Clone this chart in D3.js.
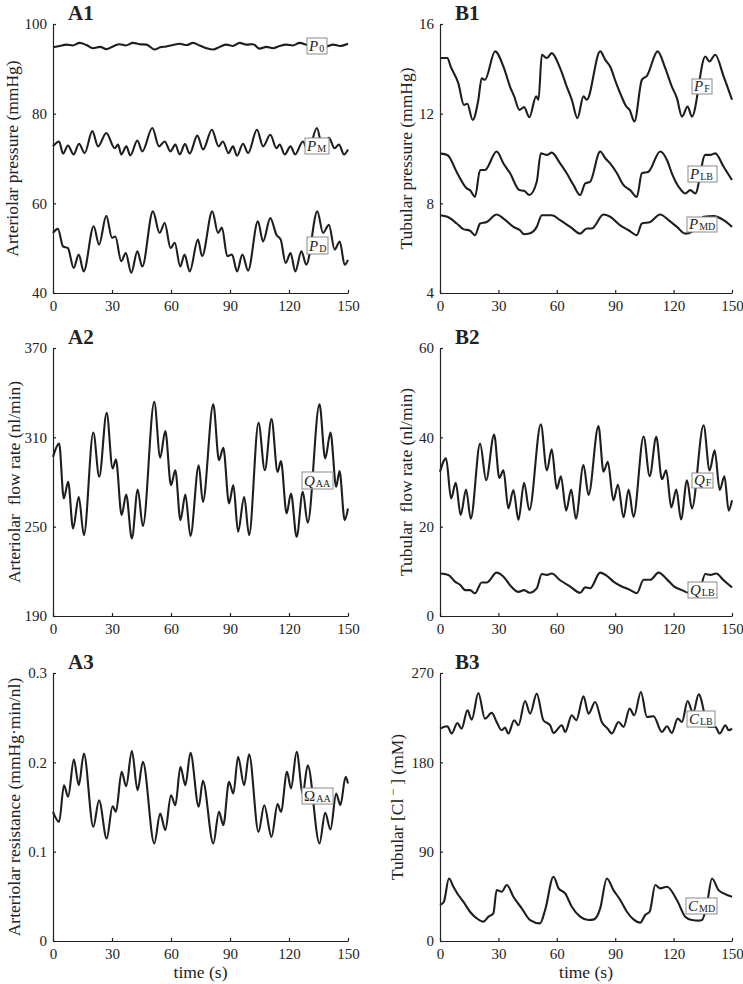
<!DOCTYPE html>
<html>
<head>
<meta charset="utf-8">
<script src="https://cdn.jsdelivr.net/npm/d3@7"></script>
<style>
  body { margin: 0; background: #fff; }
  svg text { font-family: "Liberation Serif", "Times New Roman", serif; fill: #222; }
</style>
</head>
<body>
<svg id="chart" width="743" height="984"></svg>
<script>
/*
------------------------------
DATA: [time (s), value] pairs (peaks, troughs and shoulders)
------------------------------
*/
const timeTicks = [0, 30, 60, 90, 120, 150];

const p0 = [[0,94.8],[3.4,95.1],[6.8,95.4],[10,95.2],[13.6,95.8],[17,95.3],[20.3,94.6],[24,94.9],[27.1,94.4],[30.5,95.0],
  [33.9,95.5],[37,95.2],[40.7,95.8],[44,95.5],[47.5,95.4],[51.7,94.3],[54.5,94.8],[57.6,95.0],[61,95.3],[64.4,95.6],
  [68,95.3],[71.2,95.8],[74.5,95.2],[78,94.6],[81.4,94.3],[84.8,94.9],[88.1,95.4],[91.5,95.1],[94.9,95.8],[98.3,95.4],
  [101.7,95.5],[105.1,94.5],[108.5,94.9],[111.9,94.6],[115.2,95.1],[118.6,95.4],[122,95.2],[125.4,95.8],[128.8,95.4],
  [132.2,95.0],[135.6,95.3],[139,95.0],[142.4,95.4],[146,95.1],[150,95.6]];

const pM = [[0,72.7],[3.1,73.8],[5.1,71.1],[7.6,72.9],[10.5,70.9],[13.2,73.3],[16.1,71.2],[20,76.1],[22.9,72.7],[27.1,75.7],
  [31.4,72.3],[33.1,73.1],[34.7,70.9],[37.3,72.7],[39.3,70.7],[42.9,74.0],[45.4,71.6],[50.5,76.8],[53.9,72.7],[56.8,73.8],
  [59.7,71.6],[62.2,73.1],[64.4,70.9],[67.1,73.2],[69.5,71.1],[73.4,75.1],[76.3,72.0],[80.8,76.4],[84.2,72.7],[86.4,73.8],
  [89.2,71.2],[91.5,72.7],[93.6,70.6],[96.6,73.3],[99.2,71.2],[103.7,76.4],[106.8,72.7],[110.5,75.3],[113.6,72.3],
  [115.3,73.1],[117.8,70.9],[120.8,72.7],[123.1,70.9],[127.1,73.8],[129.7,71.6],[134.2,76.8],[136.9,72.7],[140.3,74.6],
  [143.2,72.3],[145.4,73.1],[148,70.9],[150,72.0]];

const pD = [[0,53.4],[2.5,54.3],[5.1,50.4],[7.6,50.0],[10.5,45.6],[13.1,48.6],[15.6,44.8],[20.7,54.9],[23.4,50.8],[27.1,57.2],
  [30,52.3],[31.7,52.6],[34.7,47.1],[37,48.9],[39.8,44.5],[42.9,49.3],[45.4,45.9],[50.8,58.2],[54.2,53.4],[56.8,55.6],
  [59.8,50.0],[61.9,51.2],[64.7,45.9],[66.9,48.6],[69.5,44.8],[73.7,51.9],[75.8,48.2],[81,58.2],[83.9,53.4],[85.9,54.6],
  [88.6,48.2],[91,48.6],[93.6,44.8],[96.3,48.6],[99.2,45.0],[104.2,56.0],[106.8,51.5],[110.5,56.7],[113.6,53.0],
  [115.8,51.9],[118.3,46.7],[120.8,48.9],[123.2,44.8],[126.3,49.3],[128.8,46.3],[134.4,58.2],[137.3,53.4],[140.3,55.2],
  [143.2,49.7],[145.8,51.5],[148.3,46.3],[150,47.4]];

const qAA = [[0,296.9],[3.1,305.8],[5.5,268.9],[7.7,280.1],[10.2,248.8],[13.1,270],[15.7,244.3],[20.5,313.2],[23.5,283.5],
  [27.3,326.4],[30.3,289.1],[32,295.1],[34.9,257.8],[37.2,271.6],[40.1,242.1],[43.1,275],[45.7,250.4],[51.5,333.8],
  [54.5,296.4],[57.1,314.3],[60,277.9],[62.2,287.9],[64.8,254.4],[67.3,271.6],[69.9,243.7],[74.1,291.3],[76.2,266.7],
  [81.5,332.2],[84.4,294.6],[86.6,302.9],[89.5,265.6],[91.7,277.9],[94.1,246.6],[97.2,270],[99.7,244.3],[104.5,319.7],
  [107.7,287.9],[111.1,322.2],[114.2,286.8],[115.9,294],[118.8,258.9],[121,272.3],[123.9,243.2],[127,273.4],[129.5,252.6],
  [135.5,332.2],[138.4,295.8],[141.1,313.2],[144,276.8],[145.7,287.3],[148.3,254.4],[150,262.2]];

const omegaAA = [[0,0.1446],[3.1,0.1334],[5.6,0.1744],[7.7,0.1614],[10.6,0.2031],[13.1,0.1744],[15.7,0.2098],[20.5,0.1278],
  [23.4,0.1576],[27.3,0.1148],[30.3,0.1509],[32,0.1446],[34.9,0.1893],[37.2,0.1733],[40.1,0.2128],[43,0.1688],[45.7,0.2005],
  [51.5,0.1092],[54.5,0.1427],[57.1,0.1241],[60,0.1632],[62.2,0.152],[64.8,0.1949],[67.3,0.1744],[69.9,0.2106],[74.1,0.1502],
  [76.2,0.1793],[81.5,0.1092],[84.4,0.1446],[86.6,0.1297],[89.5,0.1781],[91.7,0.1651],[94.1,0.2061],[97.2,0.1744],
  [99.7,0.2091],[104.5,0.1222],[107.4,0.152],[111.1,0.1166],[114.2,0.1532],[115.9,0.1446],[119,0.1893],[121,0.1707],
  [123.9,0.2117],[127,0.1651],[129.5,0.1968],[135.5,0.1092],[138.4,0.1434],[141.1,0.1248],[144,0.1651],[146.1,0.152],
  [148.8,0.1837],[150,0.1763]];

const pF = [[0,14.48],[3.8,14.48],[5.5,14.1],[9.4,13.36],[12.3,12.39],[14,12.44],[16.8,11.72],[19.7,12.62],[21.4,13.58],
  [23.1,13.51],[28.3,14.78],[32.6,14.1],[36,13.2],[38.1,12.77],[40.8,12.17],[43.2,12.29],[45.9,11.84],[49.4,12.77],
  [50.6,12.62],[52.3,14.63],[54.9,14.48],[57.4,14.7],[61.7,14.03],[65.1,13.21],[67.7,12.62],[70.6,11.8],[73.7,12.77],
  [75.4,12.62],[82.3,14.78],[84.9,14.4],[87.4,14.1],[90.5,13.36],[92.9,12.84],[95.7,12.32],[97.4,12.17],[99.9,11.65],
  [103.7,13.51],[106.3,13.69],[111.8,14.78],[115.7,14.03],[119.1,13.21],[121.7,12.69],[124.3,11.87],[127.2,12.32],
  [129.4,11.87],[136.3,14.55],[138.4,14.33],[141.4,14.63],[145.7,13.66],[150,12.62]];

const pLB = [[0,10.23],[3.8,10.16],[8.9,9.34],[13.7,8.67],[15.4,8.59],[18,8.29],[20.6,9.49],[23.1,9.49],[29.1,10.31],
  [32.6,9.78],[36,9.34],[40.8,8.59],[43.2,8.56],[45.9,8.37],[49.7,8.96],[51.8,10.23],[54.9,10.16],[57.4,10.26],[61.7,9.78],
  [65.1,9.34],[68.6,8.81],[72,8.37],[74.6,8.89],[77.1,8.96],[82.3,10.31],[84.9,10.01],[87.4,9.78],[90.9,9.34],[94.3,8.81],
  [97.7,8.59],[101.1,8.29],[103.7,9.34],[107.1,9.41],[113.1,10.31],[116.6,9.93],[119.1,9.34],[122.6,8.74],[126,8.44],
  [128.6,8.59],[131.1,8.44],[136.3,10.16],[138.9,10.16],[141.4,10.23],[145.7,9.63],[150,9.04]];

const pMD = [[0,7.47],[3.8,7.4],[8.6,7.1],[12,6.85],[15.4,6.78],[18,6.58],[20.6,7.1],[24,7.17],[29.1,7.5],[32.6,7.32],
  [37.7,6.95],[41.1,6.8],[43.2,6.62],[45.9,6.65],[49.7,6.95],[52.3,7.47],[57.4,7.47],[61.7,7.25],[66.9,6.95],[72,6.65],
  [75.4,6.88],[78,6.88],[84,7.5],[87.4,7.4],[92.6,7.02],[96.9,6.8],[101.1,6.58],[103.7,7.1],[108,7.17],[113.1,7.5],
  [117.4,7.25],[121.7,6.95],[126,6.65],[129.4,6.73],[135.4,7.4],[140.6,7.43],[145.7,7.25],[150,6.95]];

const qF = [[0,32.3],[3.1,35.3],[5.7,26.3],[8.1,29.8],[10.6,22.6],[13.4,28.3],[15.8,21.8],[20.6,38.6],[23.7,30.4],[27.8,40.6],
  [30.5,30.9],[32.6,32.6],[35.1,24.1],[37.7,28.2],[40.3,21.5],[43.2,29.8],[45.9,23.7],[51.8,42.9],[54.9,32.6],[57.4,37.3],
  [60,28.5],[62.1,31.3],[64.8,23.6],[67.4,28.3],[69.8,21.8],[73.7,33.8],[76.3,27.1],[81.4,42.5],[84,32.3],[86.2,34.5],
  [89.1,25.9],[91.4,29.4],[94.3,22.1],[96.9,28.3],[99.4,22.2],[104.6,40.2],[107.7,31.3],[111.1,40.1],[114,30.6],[116.2,32.6],
  [118.8,24.3],[121.4,28.3],[123.8,21.6],[126.9,30.4],[129.4,24.1],[135.4,42.7],[138.5,32.6],[141.1,37.1],[143.7,28.2],
  [146.1,31.3],[148.3,23.6],[150,25.9]];

const qLB = [[0,9.5],[4.3,9.2],[7.7,7.7],[10.3,7.0],[12.9,5.8],[15.4,5.8],[18,5.1],[21.4,7.5],[24,7.5],[29.1,9.7],[32.6,8.8],
  [36,6.9],[40.3,5.4],[43.2,5.8],[45.9,5.2],[49.7,6.2],[52.3,9.4],[54.9,9.2],[57.4,9.5],[61.7,8.0],[66.9,6.6],[72,5.2],
  [74.6,6.4],[77.1,6.2],[82.3,9.7],[85.7,9.0],[89.1,7.7],[93.4,6.6],[96.9,6.0],[101.1,5.1],[104.6,8.1],[108,8.1],[112.3,9.7],
  [116.6,8.2],[120,6.7],[124.3,5.8],[127.7,5.2],[129.9,5.8],[132.9,5.4],[136.3,9.4],[138.9,9.2],[141.9,9.5],[145.7,8.0],
  [150,6.4]];

const cLB = [[0,214],[3.8,216.3],[6,209],[8.9,219.7],[11.1,214],[14.1,232.4],[16.3,223],[19.7,249.9],[23.1,224],[26.6,229.8],
  [29.1,220.7],[31.7,212.3],[33.4,215],[35.1,209],[38.1,222.4],[40.3,217.3],[43.7,241.8],[46.3,229.1],[49.7,249.2],
  [53.1,222.4],[56.6,217.3],[58.3,209.6],[62.6,217.3],[64.3,210.6],[67.7,227.4],[70,222.4],[73.7,246.5],[76.3,229.1],
  [79.7,240.8],[83.1,220.7],[86.1,214],[88.3,209],[91.7,220.7],[94.3,215.7],[97.4,234.1],[99.8,227.4],[103.2,250.9],
  [106.3,225.7],[109.7,226.4],[114,210.6],[116.6,216.3],[119.1,209.6],[122.1,224],[124.3,220.7],[127.2,241.8],[130,229.8],
  [132.9,248.5],[138,215.7],[141.4,215.7],[143.7,209],[146.6,217.3],[148.3,212.3],[150,214]];

const cMD = [[0,36.2],[2,39.6],[4.6,63],[6.9,54.6],[8.9,47.9],[12,39.6],[15.4,29.5],[18.9,22.8],[22.3,19.5],[24.9,24.5],
  [27.4,27.8],[29.1,51.3],[31.7,49.6],[34.3,56.4],[37.7,44.6],[42,32.9],[46.3,21.1],[51.4,17.8],[54,31.2],[58.3,64.7],
  [60.9,53],[64.3,47.9],[67.7,34.5],[72,24.5],[76.3,21.1],[79.2,21.8],[82.3,32.9],[85.7,63],[89.1,51.3],[92.6,41.3],
  [96,29.5],[99.4,21.8],[102.9,18.5],[105.4,26.2],[107.7,29.5],[110.6,56.4],[113.1,53],[116.6,54.7],[121.7,41.3],[126,24.5],
  [129.4,21.1],[132.9,20.5],[134.6,21.1],[137.2,37.9],[139.7,63],[143.1,51.3],[145.7,47.9],[150,44.6]];

/*
------------------------------
LAYOUT: one entry per panel
------------------------------
*/
const colA = [53, 348], colB = [440, 732];
const row1 = [24, 293], row2 = [348, 616], row3 = [673, 941];

const panels = [
  { name: "A1", xr: colA, yr: row1, domain: [40, 100], ticks: [40, 60, 80, 100], ylabX: 18,
    ylab: ["Arteriolar pressure (mmHg)"],
    series: [{ data: p0, sym: "P", sub: "0", box: [307, 38, 20, 16] },
             { data: pM, sym: "P", sub: "M", box: [305, 138, 24, 16] },
             { data: pD, sym: "P", sub: "D", box: [307, 237, 21, 17] }] },
  { name: "A2", xr: colA, yr: row2, domain: [190, 370], ticks: [190, 250, 310, 370], ylabX: 20,
    ylab: ["Arteriolar\u00a0\u00a0flow rate (nl/min)"],
    series: [{ data: qAA, sym: "Q", sub: "AA", box: [302, 472, 31, 17] }] },
  { name: "A3", xr: colA, yr: row3, domain: [0, 0.3], ticks: [0, 0.1, 0.2, 0.3], ylabX: 20,
    ylab: ["Arteriolar resistance (mmHg\u00b7min/nl)"], xlab: "time (s)",
    series: [{ data: omegaAA, sym: "\u03a9", upright: true, sub: "AA", box: [302, 788, 31, 16] }] },
  { name: "B1", xr: colB, yr: row1, domain: [4, 16], ticks: [4, 8, 12, 16], ylabX: 412,
    ylab: ["Tubular pressure (mmHg)"],
    series: [{ data: pF, sym: "P", sub: "F", box: [692, 79, 20, 15] },
             { data: pLB, sym: "P", sub: "LB", box: [688, 166, 29, 16] },
             { data: pMD, sym: "P", sub: "MD", box: [687, 217, 30, 15] }] },
  { name: "B2", xr: colB, yr: row2, domain: [0, 60], ticks: [0, 20, 40, 60], ylabX: 412,
    ylab: ["Tubular\u00a0\u00a0flow rate (nl/min)"],
    series: [{ data: qF, sym: "Q", sub: "F", box: [692, 473, 21, 15] },
             { data: qLB, sym: "Q", sub: "LB", box: [688, 582, 29, 16] }] },
  { name: "B3", xr: colB, yr: row3, domain: [0, 270], ticks: [0, 90, 180, 270], ylabX: 403,
    ylab: ["Tubular [Cl\u2009", "\u2212", "\u2009] (mM)"], xlab: "time (s)",
    series: [{ data: cLB, sym: "C", sub: "LB", box: [687, 711, 28, 16] },
             { data: cMD, sym: "C", sub: "MD", box: [686, 898, 31, 16] }] }
];

/*
------------------------------
DRAW
------------------------------
*/
const svg = d3.select("#chart");

panels.forEach(function (p) {
  const x = d3.scaleLinear().domain([0, 150]).range(p.xr);
  const y = d3.scaleLinear().domain(p.domain).range([p.yr[1], p.yr[0]]);
  const g = svg.append("g");

  const line = d3.line()
    .x(function (d) { return x(d[0]); })
    .y(function (d) { return y(d[1]); })
    .curve(d3.curveMonotoneX);

  p.series.forEach(function (s) {
    g.append("path")
      .datum(s.data)
      .attr("d", line)
      .attr("fill", "none")
      .attr("stroke", "#1e1e1e")
      .attr("stroke-width", 2.1)
      .attr("stroke-linejoin", "round");
  });

  // axes, ticks pointing inward
  const xAxis = g.append("g")
    .attr("transform", "translate(0," + p.yr[1] + ")")
    .call(d3.axisBottom(x).tickValues(timeTicks).tickSizeInner(-3).tickSizeOuter(0).tickPadding(7));
  const yAxis = g.append("g")
    .attr("transform", "translate(" + p.xr[0] + ",0)")
    .call(d3.axisLeft(y).tickValues(p.ticks).tickSizeInner(-3).tickSizeOuter(0).tickPadding(6)
      .tickFormat(function (d) { return d3.format("~g")(d); }));
  [xAxis, yAxis].forEach(function (a) {
    a.selectAll("path, line").attr("stroke", "#222").attr("stroke-width", 1.2);
    a.selectAll("text").attr("font-size", 15).attr("fill", "#333");
  });

  // panel label
  g.append("text")
    .attr("x", p.xr[0] + 15)
    .attr("y", p.yr[0] - 4)
    .attr("font-size", 21)
    .attr("font-weight", "bold")
    .text(p.name);

  // y label
  const cy = (p.yr[0] + p.yr[1]) / 2;
  const yl = g.append("text")
    .attr("transform", "translate(" + p.ylabX + "," + cy + ") rotate(-90)")
    .attr("text-anchor", "middle")
    .attr("font-size", 17.5)
    .attr("fill", "#333");
  yl.append("tspan").text(p.ylab[0]);
  if (p.ylab.length > 1) {
    yl.append("tspan").attr("dy", -6).attr("font-size", 12).text(p.ylab[1]);
    yl.append("tspan").attr("dy", 6).text(p.ylab[2]);
  }

  if (p.xlab) {
    g.append("text")
      .attr("x", (p.xr[0] + p.xr[1]) / 2)
      .attr("y", p.yr[1] + 37)
      .attr("text-anchor", "middle")
      .attr("font-size", 17.5)
      .attr("fill", "#333")
      .text(p.xlab);
  }

  // boxed series labels
  p.series.forEach(function (s) {
    const b = s.box;
    g.append("rect")
      .attr("x", b[0]).attr("y", b[1]).attr("width", b[2]).attr("height", b[3])
      .attr("fill", "#fff").attr("stroke", "#8a8a8a").attr("stroke-width", 1);
    const t = g.append("text")
      .attr("x", b[0] + 2)
      .attr("y", b[1] + b[3] - 3)
      .attr("font-size", 15)
      .attr("fill", "#444");
    t.append("tspan").attr("font-style", s.upright ? "normal" : "italic").text(s.sym);
    t.append("tspan").attr("font-size", 10).attr("dy", 1).attr("dx", 1).text(s.sub);
  });
});
</script>
</body>
</html>
